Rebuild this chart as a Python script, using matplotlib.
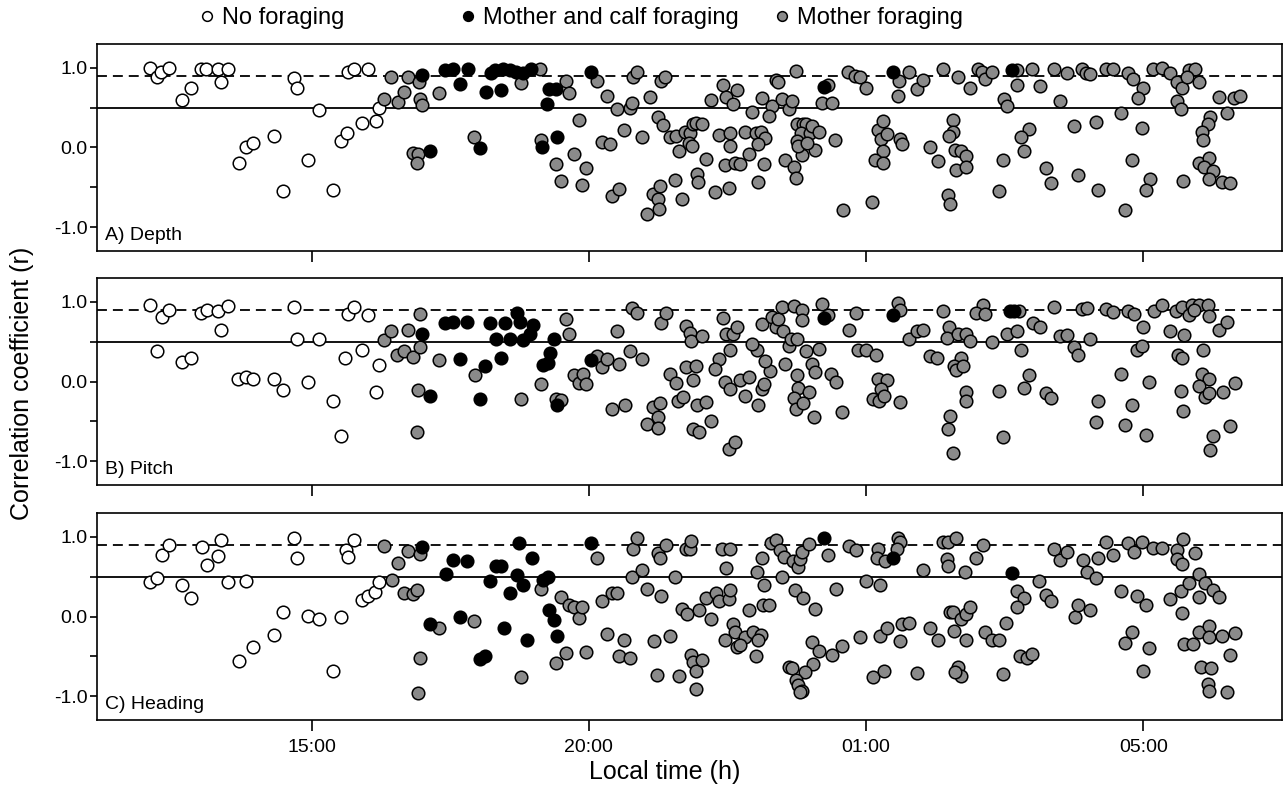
"""Correlation of mother and calf dive signals across the tagging period."""

import matplotlib

matplotlib.use("Agg")

import matplotlib.pyplot as plt
from matplotlib.lines import Line2D

# x values are hours on a running clock; tick labels below give local time
tick_hours = [15, 20, 25, 30]
tick_labels = ["15:00", "20:00", "01:00", "05:00"]

# ---- A) Depth -------------------------------------------------------------
depth_none_t = [12.09, 12.21, 12.28, 12.43, 12.66, 12.83, 13.01, 13.10, 13.32, 13.37,
                13.50, 13.69, 13.82, 13.94, 14.33, 14.49, 14.68, 14.73, 14.93, 15.14,
                15.38, 15.53, 15.63, 15.65, 15.76, 15.91, 16.01, 16.16, 16.22]
depth_none_r = [1.00, 0.88, 0.95, 1.00, 0.60, 0.75, 0.99, 0.99, 0.99, 0.82,
                0.99, -0.20, 0.00, 0.06, 0.15, -0.55, 0.87, 0.75, -0.16, 0.47,
                -0.53, 0.08, 0.18, 0.95, 0.99, 0.31, 0.99, 0.33, 0.50]

depth_both_t = [16.99, 17.13, 17.40, 17.55, 17.68, 17.82, 18.04, 18.14, 18.24, 18.30,
                18.45, 18.57, 18.69, 18.81, 18.96, 18.41, 19.29, 19.40, 19.24, 20.03,
                19.43, 19.16, 24.24, 25.48, 27.63]
depth_both_r = [0.91, -0.05, 0.97, 0.99, 0.80, 0.98, -0.01, 0.70, 0.93, 0.97,
                0.98, 0.97, 0.95, 0.93, 0.99, 0.72, 0.74, 0.74, 0.55, 0.95,
                0.13, 0.00, 0.76, 0.95, 0.97]

depth_mother_t = [16.31, 16.43, 16.56, 16.66, 16.74, 16.93, 16.96, 16.99, 17.29, 17.93,
                  16.83, 16.92, 16.90,
                  18.77, 19.11, 19.14, 19.59, 19.65, 19.83, 19.41, 19.49, 19.74, 19.94,
                  19.88, 20.15, 20.32, 20.50, 20.74, 20.78, 20.64, 20.23, 20.39, 20.79,
                  20.86, 20.95, 21.10, 20.42, 20.54, 21.24, 21.33, 21.30, 21.38, 21.46,
                  21.57, 21.62, 21.74, 21.82, 21.88, 21.80, 21.86, 21.94, 22.04, 22.12,
                  21.95, 21.97, 21.55, 21.68, 21.16, 21.29, 21.25, 21.26, 21.04, 22.21,
                  22.42, 22.47, 22.60, 22.68, 22.34, 22.55, 22.54, 22.46, 22.63, 22.73,
                  22.28, 22.52, 22.81, 22.95, 23.01, 23.10, 23.17, 23.05, 22.89, 23.16,
                  23.05, 23.13, 23.31, 23.25, 23.37, 23.42, 23.49, 23.61, 23.67, 23.73,
                  23.53, 23.70, 23.73, 23.85, 23.76, 23.87, 23.91, 23.82, 23.75, 23.78,
                  23.99, 24.03, 24.15, 24.08, 23.93, 24.21, 24.38, 24.44, 24.32, 24.68,
                  24.80, 24.89, 25.00, 24.58, 25.11, 25.22, 25.31, 25.26, 25.30, 25.16,
                  25.31, 25.38,
                  25.61, 25.64, 25.58, 25.60, 25.78, 25.91, 26.03, 26.38, 26.66, 26.87,
                  27.01, 27.09, 27.15, 27.27, 27.72, 27.73, 27.49, 27.54, 28.00, 28.13,
                  28.39, 28.50, 28.63, 28.90, 28.96, 29.04, 29.33, 29.46, 29.73, 29.82,
                  30.00, 29.90, 29.59, 29.97, 29.15, 28.75, 30.18, 30.33, 30.48, 30.60,
                  30.70, 30.60, 30.68, 30.82, 30.94, 31.01, 30.79, 31.36, 31.64, 31.74,
                  31.51, 31.21, 31.16, 31.06, 31.07, 26.57, 26.57, 26.50, 26.15, 26.29,
                  26.60, 26.72, 26.81, 26.63, 26.80, 26.47, 26.51, 27.39, 27.46, 27.93,
                  27.79, 27.85, 28.24, 28.33, 28.83, 29.18, 29.80, 30.12, 30.05, 29.67,
                  30.71, 31.01, 31.18, 31.09, 31.25, 31.18, 31.42, 31.57]
depth_mother_r = [0.61, 0.88, 0.57, 0.70, 0.88, 0.82, 0.61, 0.54, 0.68, 0.13,
                  -0.07, -0.08, -0.19,
                  0.81, 0.98, 0.09, 0.84, 0.69, 0.34, -0.21, -0.42, -0.08, -0.26,
                  -0.47, 0.84, 0.65, 0.48, 0.49, 0.56, 0.22, 0.07, 0.04, 0.88,
                  0.95, 0.13, 0.63, -0.61, -0.52, 0.38, 0.28, 0.84, 0.88, 0.13,
                  0.15, -0.05, 0.19, 0.18, 0.30, 0.06, 0.02, 0.31, 0.29, -0.15,
                  -0.33, -0.43, -0.41, -0.65, -0.59, -0.48, -0.65, -0.77, -0.83, 0.60,
                  0.79, 0.63, 0.55, 0.72, 0.16, 0.18, 0.02, -0.22, -0.19, -0.21,
                  -0.56, -0.51, 0.19, 0.45, 0.18, 0.19, 0.12, 0.04, -0.08, -0.21,
                  -0.43, 0.62, 0.52, 0.39, 0.85, 0.82, 0.61, 0.48, 0.58, 0.96,
                  -0.16, -0.25, -0.38, -0.10, 0.30, 0.30, 0.29, 0.18, 0.08, 0.02,
                  0.18, 0.27, 0.20, -0.03, 0.06, 0.56, 0.56, 0.09, 0.79, 0.95,
                  0.90, 0.88, 0.75, -0.79, -0.68, 0.22, 0.33, 0.11, -0.05, -0.16,
                  -0.20, 0.17,
                  0.11, 0.04, 0.65, 0.83, 0.95, 0.74, 0.85, 0.98, 0.89, 0.75,
                  0.99, 0.95, 0.86, 0.95, 0.97, 0.79, 0.61, 0.52, 0.98, 0.77,
                  0.99, 0.58, 0.93, 0.98, 0.93, 0.92, 0.99, 0.98, 0.93, 0.86,
                  0.75, 0.62, 0.43, 0.25, 0.32, 0.27, 0.99, 1.00, 0.94, 0.82,
                  0.75, 0.59, 0.48, 0.97, 0.98, 0.82, 0.88, 0.63, 0.62, 0.65,
                  0.43, 0.38, 0.29, 0.20, 0.09, 0.34, 0.20, 0.14, 0.00, -0.17,
                  -0.03, -0.05, -0.11, -0.28, -0.25, -0.60, -0.71, -0.55, -0.16, 0.23,
                  0.13, -0.05, -0.26, -0.44, -0.35, -0.53, -0.16, -0.39, -0.53, -0.79,
                  -0.42, -0.20, -0.13, -0.24, -0.30, -0.39, -0.43, -0.44]

# ---- B) Pitch -------------------------------------------------------------
pitch_none_t = [12.09, 12.30, 12.43, 12.21, 12.66, 12.83, 13.01, 13.11, 13.32, 13.50,
                13.37, 13.68, 13.82, 13.94, 14.33, 14.48, 14.68, 14.73, 14.93, 15.14,
                15.38, 15.53, 15.61, 15.65, 15.76, 15.91, 16.01, 16.16, 16.21]
pitch_none_r = [0.96, 0.81, 0.90, 0.38, 0.24, 0.30, 0.86, 0.90, 0.89, 0.95,
                0.65, 0.03, 0.06, 0.03, 0.03, -0.11, 0.93, 0.53, -0.01, 0.54,
                -0.25, -0.68, 0.30, 0.85, 0.93, 0.40, 0.84, -0.13, 0.21]

pitch_both_t = [16.99, 17.13, 17.41, 17.55, 17.81, 17.67, 18.13, 18.03, 18.21, 18.32,
                18.41, 18.48, 18.58, 18.70, 18.75, 18.81, 18.93, 18.99, 19.37, 19.30,
                19.17, 19.26, 19.43, 20.03, 24.24, 25.48, 27.60, 27.66]
pitch_both_r = [0.60, -0.18, 0.74, 0.75, 0.75, 0.28, 0.19, -0.22, 0.74, 0.54,
                0.30, 0.74, 0.53, 0.86, 0.75, 0.52, 0.60, 0.71, 0.53, 0.36,
                0.21, 0.23, -0.29, 0.27, 0.80, 0.84, 0.89, 0.89]

pitch_mother_t = [16.30, 16.43, 16.54, 16.66, 16.74, 16.83, 16.95, 16.96, 16.92, 16.90,
                  17.29, 17.94,
                  18.77, 19.14, 19.41, 19.50, 19.59, 19.65, 19.73, 19.83, 19.89, 19.94,
                  20.14, 20.24, 20.32, 20.54, 20.50, 20.74, 20.95, 20.42, 20.65, 20.77,
                  20.86, 21.31, 21.40, 21.47, 21.57, 21.76, 21.87, 21.94, 21.61, 21.70,
                  21.95, 22.12, 21.76, 21.82, 21.84, 22.04, 21.16, 21.29, 21.25, 21.04,
                  21.24, 21.88, 21.99, 22.21, 22.53, 22.64, 22.42, 22.47, 22.60, 22.68,
                  22.54, 22.34, 22.28, 22.46, 22.55, 22.72, 22.89, 22.81, 23.05, 23.13,
                  23.16, 23.26, 23.17, 23.03, 22.95, 23.13, 23.31, 23.37, 23.42, 23.49,
                  23.50, 23.61, 23.64, 23.75, 23.70, 23.84, 23.84, 24.21, 24.32, 23.91,
                  24.03, 24.15, 24.08, 23.53, 23.76, 23.78, 23.97, 23.70, 23.73, 23.87,
                  24.06, 24.37, 24.45, 24.57, 24.69, 24.82, 24.86, 25.00, 25.18, 25.22,
                  25.37, 25.26, 25.12, 25.24, 25.33,
                  25.58, 25.61, 25.62, 25.78, 25.91, 26.03, 26.38, 26.50, 26.45, 26.66,
                  26.80, 26.87, 26.15, 26.28, 26.72, 26.59, 26.63, 26.75, 26.81, 26.80,
                  26.51, 26.47, 26.57, 27.10, 26.99, 27.15, 27.27, 27.54, 27.72, 27.79,
                  28.01, 28.13, 27.93, 27.85, 27.39, 28.24, 28.33, 27.46, 27.75, 28.39,
                  28.50, 28.63, 28.74, 28.83, 29.04, 28.90, 28.98, 29.33, 29.46, 29.73,
                  29.83, 29.99, 29.88, 29.97, 29.59, 30.11, 29.19, 29.15, 29.67, 29.80,
                  30.05, 30.20, 30.33, 30.59, 30.70, 30.88, 31.00, 31.16, 30.82, 31.18,
                  30.91, 30.48, 30.74, 30.62, 30.70, 31.07, 31.36, 31.51, 31.06, 31.19,
                  31.01, 31.12, 31.19, 31.44, 31.66, 30.68, 30.71, 31.25, 31.21, 31.57]
pitch_mother_r = [0.52, 0.63, 0.33, 0.38, 0.65, 0.31, 0.43, 0.85, -0.11, -0.63,
                  0.27, 0.08,
                  -0.22, -0.03, -0.22, -0.23, 0.79, 0.60, 0.08, -0.02, 0.10, -0.03,
                  0.32, 0.18, 0.28, 0.22, 0.63, 0.38, 0.28, -0.35, -0.30, 0.92,
                  0.86, 0.74, 0.86, 0.10, -0.02, 0.18, 0.02, 0.20, -0.25, -0.20,
                  -0.29, -0.26, 0.70, 0.61, 0.51, 0.57, -0.32, -0.27, -0.44, -0.53,
                  -0.58, -0.60, -0.64, -0.50, -0.85, -0.76, 0.80, 0.60, 0.60, 0.69,
                  0.40, 0.28, 0.16, -0.01, -0.10, 0.02, 0.06, -0.18, -0.29, -0.10,
                  -0.03, 0.13, 0.26, 0.40, 0.47, 0.72, 0.81, 0.69, 0.78, 0.93,
                  0.63, 0.44, 0.54, 0.54, 0.95, 0.90, 0.77, 0.97, 0.84, 0.38,
                  0.22, 0.41, 0.12, 0.22, 0.08, -0.08, -0.13, -0.21, -0.35, -0.27,
                  -0.44, 0.10, 0.00, -0.38, 0.65, 0.86, 0.40, 0.39, 0.33, 0.03,
                  0.02, -0.10, -0.22, -0.25, -0.18,
                  0.98, 0.90, -0.26, 0.54, 0.63, 0.65, 0.88, 0.68, 0.55, 0.60,
                  0.60, 0.51, 0.32, 0.30, 0.30, 0.19, 0.14, 0.20, -0.13, -0.24,
                  -0.43, -0.60, -0.90, 0.96, 0.86, 0.85, 0.49, 0.60, 0.63, 0.40,
                  0.74, 0.69, 0.08, -0.08, -0.12, -0.15, -0.21, -0.70, 0.89, 0.94,
                  0.57, 0.58, 0.43, 0.33, 0.53, 0.91, 0.92, 0.91, 0.87, 0.89,
                  0.85, 0.68, 0.40, 0.44, 0.09, 0.00, -0.25, -0.51, -0.55, -0.30,
                  -0.67, 0.88, 0.96, 0.89, 0.93, 0.96, 0.96, 0.96, 0.84, 0.82,
                  0.90, 0.63, 0.58, 0.33, 0.30, 0.40, 0.65, 0.75, 0.09, 0.03,
                  -0.06, -0.19, -0.14, -0.13, -0.02, -0.12, -0.37, -0.69, -0.86, -0.56]

# ---- C) Heading -----------------------------------------------------------
heading_none_t = [12.09, 12.22, 12.30, 12.43, 12.66, 12.83, 13.02, 13.11, 13.32, 13.37,
                  13.50, 13.82, 13.69, 13.94, 14.33, 14.48, 14.68, 14.73, 14.93, 15.14,
                  15.38, 15.53, 15.62, 15.66, 15.76, 15.91, 16.01, 16.15, 16.22]
heading_none_r = [0.43, 0.48, 0.77, 0.90, 0.40, 0.23, 0.87, 0.65, 0.76, 0.96,
                  0.43, 0.44, -0.56, -0.38, -0.23, 0.06, 0.98, 0.73, 0.01, -0.03,
                  -0.69, -0.01, 0.83, 0.75, 0.96, 0.21, 0.26, 0.31, 0.43]

heading_both_t = [16.99, 17.13, 17.42, 17.55, 17.67, 17.81, 18.03, 18.13, 18.21, 18.33,
                  18.42, 18.58, 18.70, 18.81, 18.74, 18.98, 19.17, 19.26, 19.29, 19.37,
                  19.43, 18.47, 18.88, 20.03, 24.24, 25.48, 27.63]
heading_both_r = [0.87, -0.09, 0.53, 0.71, 0.00, 0.70, -0.53, -0.49, 0.44, 0.63,
                  0.63, 0.30, 0.52, 0.39, 0.92, 0.73, 0.46, 0.50, 0.08, -0.05,
                  -0.25, -0.14, -0.30, 0.92, 0.98, 0.73, 0.55]

heading_mother_t = [16.30, 16.56, 16.45, 16.74, 16.66, 16.83, 16.90, 16.95, 16.92, 16.96,
                    17.30, 17.93,
                    19.14, 18.77, 19.49, 19.65, 19.74, 19.83, 19.88, 19.59, 19.41, 19.94,
                    20.15, 20.24, 20.41, 20.50, 20.32, 20.63, 20.54, 20.74, 20.79, 20.86,
                    20.77, 20.95, 21.04, 21.31, 21.23, 21.62, 21.18, 21.46, 21.25, 21.29,
                    21.40, 21.56, 21.76, 21.82, 21.85, 21.68, 21.77, 21.98, 22.21, 22.12,
                    22.29, 22.34, 22.52, 22.55, 21.84, 21.88, 21.94, 22.04, 21.94, 22.41,
                    22.54, 22.48, 22.89, 22.60, 22.64, 22.81, 22.96, 23.10, 23.05, 22.46,
                    22.68, 22.73, 23.01, 23.04, 23.16, 23.14, 23.25, 23.13, 23.28, 23.37,
                    23.44, 23.52, 23.69, 23.78, 23.81, 23.84, 23.97, 23.49, 23.72, 23.87,
                    24.08, 24.32, 24.45, 24.03, 24.15, 24.38, 24.57, 24.05, 23.90, 23.61,
                    23.67, 23.73, 23.78, 23.85, 23.81, 24.70, 24.82, 25.00, 25.25, 24.89,
                    25.25, 25.38, 25.12, 25.33, 25.22, 25.19, 25.34,
                    25.58, 25.61, 25.55, 25.62, 25.64, 25.78, 26.03, 26.15, 26.29, 25.92,
                    26.38, 26.48, 26.63, 26.45, 26.48, 26.78, 26.99, 27.10, 26.51, 26.57,
                    26.72, 26.80, 26.87, 26.59, 26.81, 26.65, 26.72, 26.60, 27.15, 27.27,
                    27.39, 27.52, 27.46, 27.72, 27.85, 27.72, 27.78, 27.90, 28.00, 28.12,
                    28.24, 28.33, 28.39, 28.50, 28.63, 28.92, 28.98, 29.15, 29.19, 28.76,
                    28.83, 29.04, 29.33, 29.46, 29.73, 29.83, 29.97, 30.18, 30.33, 30.60,
                    30.71, 30.94, 30.60, 30.70, 29.60, 29.89, 30.05, 29.67, 29.80, 30.11,
                    29.99, 30.48, 30.68, 30.82, 31.01, 31.12, 31.25, 31.36, 31.01, 30.70,
                    31.01, 31.19, 31.18, 31.42, 31.65, 30.73, 30.89, 31.57, 31.04, 31.22,
                    31.16, 31.18, 31.51]
heading_mother_r = [0.88, 0.67, 0.46, 0.82, 0.30, 0.28, 0.33, -0.52, -0.96, 0.79,
                    -0.14, -0.06,
                    0.35, -0.76, 0.25, 0.14, 0.12, -0.02, 0.12, -0.46, -0.59, -0.45,
                    0.73, 0.20, 0.30, 0.30, -0.22, -0.29, -0.49, -0.52, 0.85, 0.98,
                    0.49, 0.58, 0.34, 0.26, -0.73, -0.75, -0.31, -0.24, 0.80, 0.73,
                    0.90, 0.50, 0.85, 0.85, 0.95, 0.10, 0.03, 0.08, -0.03, 0.23,
                    0.30, 0.19, 0.22, 0.33, -0.48, -0.57, -0.68, -0.55, -0.91, 0.85,
                    0.85, 0.61, 0.08, -0.10, -0.20, -0.26, -0.19, -0.23, -0.30, -0.29,
                    -0.38, -0.36, -0.50, 0.56, 0.40, 0.15, 0.15, 0.74, 0.92, 0.96,
                    0.83, 0.75, 0.70, 0.62, 0.72, 0.81, 0.91, 0.50, 0.33, 0.23,
                    0.09, 0.77, 0.34, -0.32, -0.43, -0.48, -0.37, -0.60, -0.70, -0.63,
                    -0.65, -0.80, -0.86, -0.93, -0.95, 0.88, 0.83, 0.45, 0.40, -0.26,
                    -0.25, -0.15, -0.76, -0.69, 0.85, 0.74, 0.70,
                    0.99, 0.93, 0.85, -0.31, -0.09, -0.08, 0.58, -0.15, -0.29, -0.71,
                    0.93, 0.93, 0.98, 0.72, 0.63, 0.56, 0.74, 0.90, 0.06, 0.06,
                    -0.03, 0.03, 0.12, -0.18, -0.29, -0.64, -0.75, -0.70, -0.20, -0.29,
                    -0.30, -0.08, -0.72, 0.32, 0.23, 0.12, -0.49, -0.52, -0.47, 0.44,
                    0.27, 0.20, 0.85, 0.71, 0.81, 0.71, 0.56, 0.48, 0.74, 0.00,
                    0.15, 0.08, 0.93, 0.77, 0.92, 0.81, 0.93, 0.86, 0.86, 0.83,
                    0.97, 0.80, 0.72, 0.66, 0.32, 0.26, 0.15, -0.33, -0.19, -0.39,
                    -0.68, 0.22, 0.32, 0.42, 0.53, 0.42, 0.33, 0.24, 0.24, 0.04,
                    -0.19, -0.12, -0.26, -0.25, -0.21, -0.34, -0.35, -0.48, -0.63, -0.65,
                    -0.85, -0.93, -0.95]

panel_titles = ["A) Depth", "B) Pitch", "C) Heading"]
legend_labels = ["No foraging", "Mother and calf foraging", "Mother foraging"]
threshold_high = 0.9
threshold_low = 0.5

WHITE = "white"
BLACK = "black"
GREY = "#8a8a8a"

plt.rcParams["font.family"] = ["Liberation Sans", "DejaVu Sans"]

panels = [
    ((depth_none_t, depth_none_r), (depth_mother_t, depth_mother_r), (depth_both_t, depth_both_r)),
    ((pitch_none_t, pitch_none_r), (pitch_mother_t, pitch_mother_r), (pitch_both_t, pitch_both_r)),
    ((heading_none_t, heading_none_r), (heading_mother_t, heading_mother_r), (heading_both_t, heading_both_r)),
]

fig = plt.figure(figsize=(12.85, 7.90), dpi=100)
left, width, height = 97 / 1285, 1185 / 1285, 207 / 790
bottoms = [1 - 251 / 790, 1 - 485 / 790, 1 - 720 / 790]

for index, (series, title) in enumerate(zip(panels, panel_titles)):
    ax = fig.add_axes([left, bottoms[index], width, height])
    ax.axhline(threshold_high, color="black", lw=1.3, ls=(0, (5.5, 3.3)), zorder=1)
    ax.axhline(threshold_low, color="black", lw=1.3, zorder=1)
    for (t, r), face in zip(series, (WHITE, GREY, BLACK)):
        ax.scatter(t, r, s=82, facecolor=face, edgecolor="black", linewidths=1.1, zorder=3)

    ax.set_xlim(11.13, 32.5)
    ax.set_ylim(-1.3, 1.3)
    ax.set_yticks([-1.0, 0.0, 1.0])
    ax.set_yticklabels(["-1.0", "0.0", "1.0"])
    ax.set_yticks([-0.5, 0.5], minor=True)
    ax.set_xticks(tick_hours)
    ax.set_xticklabels(tick_labels if index == 2 else [])
    ax.tick_params(axis="y", which="both", length=5, width=1.2, labelsize=14, pad=2)
    ax.tick_params(axis="x", length=8, width=1.2, labelsize=14, pad=6)
    for spine in ax.spines.values():
        spine.set_linewidth(1.2)
    ax.text(0.007, 0.035, title, transform=ax.transAxes, fontsize=14,
            ha="left", va="bottom")

fig.text(22 / 1285, 1 - 383 / 790, "Correlation coefficient (r)", rotation=90,
         ha="center", va="center", fontsize=18)
fig.text(665 / 1285, 1 - 772 / 790, "Local time (h)", ha="center", va="center",
         fontsize=18)

legend_x = [200, 461, 775]
for label, face, x in zip(legend_labels, (WHITE, BLACK, GREY), legend_x):
    handle = Line2D([], [], ls="none", marker="o", markersize=7,
                    markerfacecolor=face, markeredgecolor="black", markeredgewidth=1.1)
    fig.legend([handle], [label], loc="center left",
               bbox_to_anchor=(x / 1285, 1 - 18 / 790), frameon=False,
               fontsize=17, handlelength=0.6, handletextpad=0.35,
               borderpad=0, borderaxespad=0)

fig.savefig("out.png", dpi=100)
